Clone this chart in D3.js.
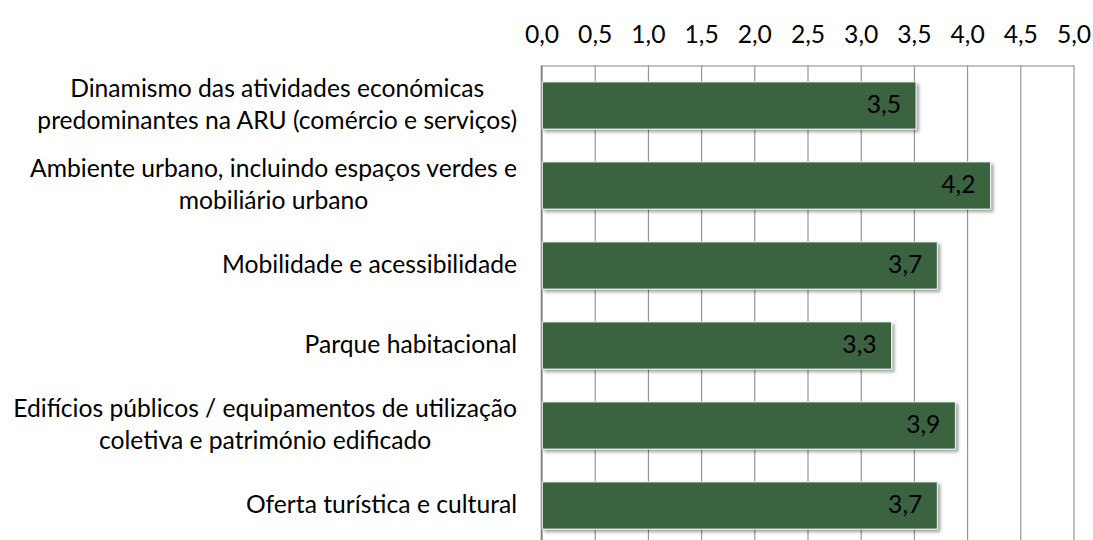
<!DOCTYPE html>
<html>
<head>
<meta charset="utf-8">
<script src="https://cdn.jsdelivr.net/npm/d3@7"></script>
<style>
  html, body { margin: 0; padding: 0; background: #fff; }
  svg { display: block; }
  text { font-family: Lato, "Open Sans", "DejaVu Sans", sans-serif; fill: #000; }
</style>
</head>
<body>
<svg id="chart" width="1093" height="540"></svg>
<script>
// ---- data ----
const categories = [
  "Dinamismo das atividades económicas predominantes na ARU (comércio e serviços)",
  "Ambiente urbano, incluindo espaços verdes e mobiliário urbano",
  "Mobilidade e acessibilidade",
  "Parque habitacional",
  "Edifícios públicos / equipamentos de utilização coletiva e património edificado",
  "Oferta turística e cultural"
];
const categoryLines = [
  ["Dinamismo das atividades económicas", "predominantes na ARU (comércio e serviços)"],
  ["Ambiente urbano, incluindo espaços verdes e", "mobiliário urbano"],
  ["Mobilidade e acessibilidade"],
  ["Parque habitacional"],
  ["Edifícios públicos / equipamentos de utilização", "coletiva e património edificado"],
  ["Oferta turística e cultural"]
];
const values = [3.52, 4.22, 3.72, 3.29, 3.89, 3.72];
const tickValues = [0, 0.5, 1, 1.5, 2, 2.5, 3, 3.5, 4, 4.5, 5];

// ---- layout ----
const svg = d3.select("#chart");
const plot = { left: 541.5, right: 1073.5, top: 65.5, bottom: 545.5 };
const labelRight = 517;
const targetWidestLine = 504;

// fit font size to the reference text width
const probe = svg.append("text").attr("font-size", 100).text("Edifícios públicos / equipamentos de utilização");
const fs = 100 * targetWidestLine / probe.node().getComputedTextLength();
probe.remove();

const x = d3.scaleLinear().domain([0, 5]).range([plot.left, plot.right]);
const y = d3.scaleBand().domain(categories).range([plot.top, plot.bottom])
  .paddingInner(0.41).paddingOuter(0.205);

const fmt = v => d3.format(".1f")(v).replace(".", ",");

// shadow filter
const defs = svg.append("defs");
const f = defs.append("filter").attr("id", "shadow")
  .attr("x", "-5%").attr("y", "-20%").attr("width", "115%").attr("height", "160%");
f.append("feDropShadow").attr("dx", 2.5).attr("dy", 2.5).attr("stdDeviation", 1.8)
  .attr("flood-color", "#000").attr("flood-opacity", 0.35);

// axis (top) with gridlines
const axis = d3.axisTop(x).tickValues(tickValues).tickFormat(fmt)
  .tickSizeInner(-(plot.bottom - plot.top)).tickSizeOuter(0).tickPadding(23);
const gAxis = svg.append("g").attr("transform", `translate(0,${plot.top})`).call(axis);
gAxis.select(".domain").attr("stroke", "#878787").attr("stroke-width", 1.2);
gAxis.selectAll(".tick line").attr("stroke", "#8e8e8e").attr("stroke-width", 1.1);
gAxis.selectAll(".tick text").attr("font-size", fs).attr("fill", "#000")
  .attr("font-family", "Lato, 'Open Sans', sans-serif");

// left axis line
svg.append("line")
  .attr("x1", x(0)).attr("x2", x(0))
  .attr("y1", plot.top).attr("y2", plot.bottom)
  .attr("stroke", "#808080").attr("stroke-width", 1.6);

// bars
const bars = svg.append("g");
bars.selectAll("rect").data(values).join("rect")
  .attr("x", x(0) + 0.8)
  .attr("y", (d, i) => y(categories[i]))
  .attr("width", d => x(d) - x(0) - 0.8)
  .attr("height", y.bandwidth())
  .attr("fill", "#3a6441")
  .attr("stroke", "#f4f4f4")
  .attr("stroke-width", 1)
  .attr("filter", "url(#shadow)");

// value labels
svg.append("g").selectAll("text").data(values).join("text")
  .attr("x", d => x(d) - 15)
  .attr("y", (d, i) => y(categories[i]) + y.bandwidth() / 2 + fs * 0.3)
  .attr("text-anchor", "end")
  .attr("font-size", fs)
  .text(d => fmt(d));

// category labels
const lineH = fs * 1.28;
const gCat = svg.append("g");
categoryLines.forEach((lines, i) => {
  const cy = y(categories[i]) + y.bandwidth() / 2;
  const t = gCat.append("text").attr("font-size", fs).attr("text-anchor", "middle");
  lines.forEach((ln, j) => {
    t.append("tspan")
      .attr("y", cy + fs * 0.3 + (j - (lines.length - 1) / 2) * lineH)
      .text(ln);
  });
  const w = d3.max(t.selectAll("tspan").nodes(), n => n.getComputedTextLength());
  t.selectAll("tspan").attr("x", labelRight - w / 2);
});
</script>
</body>
</html>
